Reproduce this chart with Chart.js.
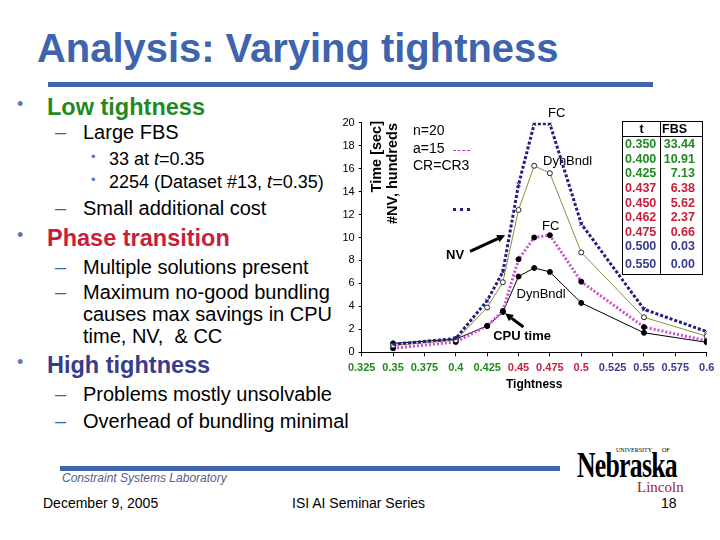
<!DOCTYPE html>
<html lang="en">
<head>
<meta charset="UTF-8">
<title>Analysis: Varying tightness</title>
<script src="https://cdn.jsdelivr.net/npm/chart.js"></script>
<style>
  body { margin: 0; background: #fff; font-family: "Liberation Sans", Arial, sans-serif; }
  #slide { position: relative; width: 720px; height: 540px; overflow: hidden; background: #fff; }
  .t { position: absolute; white-space: nowrap; line-height: 1.2; color: #000; }
  .h { font-size: 23.5px; font-weight: bold; }
  .s { font-size: 20px; }
  .ss { font-size: 18px; }
  .dot { position: absolute; color: #5a78b4; line-height: 1.2; }
  .dash { position: absolute; color: #3e64ae; font-size: 20px; line-height: 1.2; }
  .vt { position: absolute; writing-mode: vertical-rl; transform: rotate(180deg);
        font-weight: bold; font-size: 14.5px; line-height: 16px; white-space: nowrap; }
  #chartBox { position: absolute; left: 300px; top: 100px; width: 420px; height: 300px; }
  #fbs { position: absolute; left: 622px; top: 121px; border-collapse: collapse;
         border: 1px solid #000; font-weight: bold; font-size: 12.5px; }
  #fbs td { padding: 0; height: 14.6px; line-height: 14px; }
  #fbs td:first-child { border-right: 1px solid #000; width: 35px; padding-left: 2px; }
  #fbs td:last-child { width: 34px; text-align: right; padding-right: 7px; }
  #fbs tr.head td { border-bottom: 1px solid #000; text-align: left; height: 14px; }
  #fbs tr.head td:first-child { text-align: center; padding-left: 0; width: 37px; }
  #fbs tr.head td:last-child { padding-left: 1px; padding-right: 0; width: 40px; }
</style>
</head>
<body>
<div id="slide">
  <div class="t fit" data-w="521" style="left:37px; top:24px; font-size:41px; font-weight:bold; color:#3e64ae;">Analysis: Varying tightness</div>
  <div style="position:absolute; left:48px; top:82px; width:605px; height:4.5px; background:#3e64ae;"></div>

  <div class="dot" style="left:17px; top:94px; font-size:18px;">•</div>
  <div class="t h" style="left:47px; top:93px; color:#1f8a1f;">Low tightness</div>
  <div class="dash" style="left:55px; top:120px;">–</div>
  <div class="t s" style="left:83px; top:120px;">Large FBS</div>
  <div class="dot" style="left:91px; top:149px; font-size:13px;">•</div>
  <div class="t ss" style="left:109px; top:149px;">33 at <i>t</i>=0.35</div>
  <div class="dot" style="left:91px; top:172px; font-size:13px;">•</div>
  <div class="t ss" style="left:109px; top:172px;">2254 (Dataset #13, <i>t</i>=0.35)</div>
  <div class="dash" style="left:55px; top:196px;">–</div>
  <div class="t s" style="left:83px; top:196px;">Small additional cost</div>

  <div class="dot" style="left:17px; top:225px; font-size:18px;">•</div>
  <div class="t h" style="left:47px; top:224px; color:#c81e3c;">Phase transition</div>
  <div class="dash" style="left:55px; top:255px;">–</div>
  <div class="t s" style="left:83px; top:255px;">Multiple solutions present</div>
  <div class="dash" style="left:55px; top:280px;">–</div>
  <div class="t s" style="left:83px; top:280px;">Maximum no-good bundling</div>
  <div class="t s" style="left:83px; top:302px;">causes max savings in CPU</div>
  <div class="t s" style="left:83px; top:324px;">time, NV,&nbsp; &amp; CC</div>

  <div class="dot" style="left:17px; top:352px; font-size:18px;">•</div>
  <div class="t h" style="left:47px; top:351px; color:#373c8c;">High tightness</div>
  <div class="dash" style="left:55px; top:382px;">–</div>
  <div class="t s" style="left:83px; top:382px;">Problems mostly unsolvable</div>
  <div class="dash" style="left:55px; top:409px;">–</div>
  <div class="t s" style="left:83px; top:409px;">Overhead of bundling minimal</div>

  <div id="chartBox"><canvas id="chart" width="420" height="300"></canvas></div>

  <div class="vt" style="left:368px; top:121px;">Time [sec]</div>
  <div class="vt" style="left:384px; top:123px;">#NV, hundreds</div>
  <div class="t" style="left:413px; top:122px; font-size:14px;">n=20</div>
  <div class="t" style="left:413px; top:140px; font-size:14px;">a=15</div>
  <div class="t" style="left:413px; top:157px; font-size:14px;">CR=CR3</div>
  <div style="position:absolute; left:453px; top:150px; width:17px; border-top:1px dashed #c040c0;"></div>
  <div style="position:absolute; left:453px; top:208px; width:17px; border-top:3px dotted #202080;"></div>

  <table id="fbs"></table>

  <div style="position:absolute; left:60px; top:466px; width:500px; height:4.5px; background:#3e64ae;"></div>
  <div class="t" style="left:62px; top:471px; font-size:12px; font-style:italic; color:#50608f;">Constraint Systems Laboratory</div>
  <div class="t" style="left:43px; top:495px; font-size:14px;">December 9, 2005</div>
  <div class="t" style="left:292px; top:495px; font-size:14px;">ISI AI Seminar Series</div>
  <div class="t" style="left:661px; top:495px; font-size:14px;">18</div>

  <div class="t" style="left:616px; top:447px; font-size:6px; font-family:'Liberation Serif';">UNIVERSITY</div>
  <div class="t" style="left:662px; top:447px; font-size:6px; font-family:'Liberation Serif';">OF</div>
  <div class="t fit" data-w="100" style="left:577px; top:445px; font-size:35px; font-weight:bold; font-family:'Liberation Serif', serif; letter-spacing:-1px;">Nebraska</div>
  <div class="t" style="left:637px; top:478px; font-size:15px; font-family:'Liberation Serif', serif; color:#a01c2c;">Lincoln</div>
</div>

<script>
// values
const tightness  = [0.35, 0.4, 0.425, 0.4375, 0.45, 0.4625, 0.475, 0.5, 0.55, 0.6];
const nvFC       = [0.7, 1.2, 4.5, 7.0, 14.6, 19.9, 19.9, 11.2, 3.75, 1.8];
const nvDynBndl  = [0.6, 1.05, 3.9, 6.1, 12.4, 16.25, 15.6, 8.7, 3.05, 1.4];
const cpuFC      = [0.35, 0.9, 2.3, 3.6, 8.1, 10.0, 10.2, 6.15, 2.2, 1.0];
const cpuDynBndl = [0.78, 1.15, 2.3, 3.5, 6.6, 7.35, 7.0, 4.3, 1.7, 0.87];

const xTicks = [0.325, 0.35, 0.375, 0.4, 0.425, 0.45, 0.475, 0.5, 0.525, 0.55, 0.575, 0.6];
const yTicks = [0, 2, 4, 6, 8, 10, 12, 14, 16, 18, 20];

const tableT   = ['0.350', '0.400', '0.425', '0.437', '0.450', '0.462', '0.475', '0.500', '0.550'];
const tableFBS = ['33.44', '10.91', '7.13', '6.38', '5.62', '2.37', '0.66', '0.03', '0.00'];

const GREEN = '#1f8a1f', RED = '#c81e3c', NAVY = '#373c8c';

// squeeze a few labels to their width in the slide
document.querySelectorAll('.fit').forEach(el => {
    const w = +el.dataset.w;
    el.style.transformOrigin = 'left top';
    el.style.transform = 'scaleX(' + (w / el.offsetWidth) + ')';
});

// FBS table
const tbl = document.getElementById('fbs');
tbl.innerHTML = '<tr class="head"><td>t</td><td>FBS</td></tr>';
tableT.forEach((t, i) => {
    const v = parseFloat(t);
    const c = v < 0.43 ? GREEN : (v < 0.49 ? RED : NAVY);
    const tr = document.createElement('tr');
    tr.style.color = c;
    if (i === tableT.length - 1) tr.style.height = '21px';
    tr.innerHTML = '<td>' + t + '</td><td>' + tableFBS[i] + '</td>';
    tbl.appendChild(tr);
});

// text on the plot, in data units
const notes = [
    { text: 'FC', x: 0.4805, y: 20.8, font: '13px "Liberation Sans"' },
    { text: 'DynBndl', x: 0.4891, y: 16.6, font: '13px "Liberation Sans"' },
    { text: 'FC', x: 0.4756, y: 10.95, font: '13px "Liberation Sans"' },
    { text: 'DynBndl', x: 0.468, y: 5.05, font: '13px "Liberation Sans"' },
    { text: 'NV', x: 0.3994, y: 8.45, font: 'bold 13px "Liberation Sans"' },
    { text: 'CPU time', x: 0.4528, y: 1.36, font: 'bold 13px "Liberation Sans"' }
];
const arrows = [
    { from: [0.4114, 8.8], to: [0.4393, 10.2] },
    { from: [0.4539, 2.2], to: [0.4393, 3.4] }
];

const notesPlugin = {
    id: 'notes',
    beforeDatasetsDraw(chart) {
        const { ctx, scales: { x, y } } = chart;
        ctx.save();
        ctx.fillStyle = '#000';
        ctx.textAlign = 'center';
        ctx.textBaseline = 'middle';
        notes.forEach(n => {
            ctx.font = n.font;
            ctx.fillText(n.text, x.getPixelForValue(n.x), y.getPixelForValue(n.y));
        });
        ctx.restore();
    },
    afterDatasetsDraw(chart) {
        const { ctx, scales: { x, y } } = chart;
        ctx.save();
        ctx.strokeStyle = '#000';
        ctx.fillStyle = '#000';
        ctx.lineWidth = 3;
        arrows.forEach(a => {
            const x0 = x.getPixelForValue(a.from[0]), y0 = y.getPixelForValue(a.from[1]);
            const x1 = x.getPixelForValue(a.to[0]), y1 = y.getPixelForValue(a.to[1]);
            const ang = Math.atan2(y1 - y0, x1 - x0);
            const hx = x1 - 8 * Math.cos(ang), hy = y1 - 8 * Math.sin(ang);
            ctx.beginPath();
            ctx.moveTo(x0, y0);
            ctx.lineTo(hx, hy);
            ctx.stroke();
            ctx.beginPath();
            ctx.moveTo(x1, y1);
            ctx.lineTo(hx + 4 * Math.sin(ang), hy - 4 * Math.cos(ang));
            ctx.lineTo(hx - 4 * Math.sin(ang), hy + 4 * Math.cos(ang));
            ctx.closePath();
            ctx.fill();
        });
        ctx.restore();
    }
};

const pts = arr => tightness.map((t, i) => ({ x: t, y: arr[i] }));

Chart.defaults.font.family = '"Liberation Sans", Arial, sans-serif';

new Chart(document.getElementById('chart'), {
    type: 'line',
    data: {
        datasets: [
            {
                label: 'FC NV',
                data: pts(nvFC),
                borderColor: '#20207f',
                borderWidth: 3,
                borderDash: [3, 2],
                pointStyle: 'crossRot',
                pointRadius: 3,
                pointBorderColor: '#20207f',
                pointBorderWidth: 1,
                tension: 0
            },
            {
                label: 'DynBndl NV',
                data: pts(nvDynBndl),
                borderColor: '#8c8c3c',
                borderWidth: 1,
                pointStyle: 'circle',
                pointRadius: 2.5,
                pointBackgroundColor: '#fff',
                pointBorderColor: '#222',
                pointBorderWidth: 1,
                tension: 0
            },
            {
                label: 'FC CPU',
                data: pts(cpuFC),
                borderColor: '#d04cd0',
                borderWidth: 3,
                borderDash: [2, 2],
                pointStyle: 'circle',
                pointRadius: 2.5,
                pointBackgroundColor: '#000',
                pointBorderColor: '#000',
                pointBorderWidth: 1,
                tension: 0
            },
            {
                label: 'DynBndl CPU',
                data: pts(cpuDynBndl),
                borderColor: '#000',
                borderWidth: 1,
                pointStyle: 'circle',
                pointRadius: 2.5,
                pointBackgroundColor: '#000',
                pointBorderColor: '#000',
                pointBorderWidth: 1,
                tension: 0
            }
        ]
    },
    options: {
        responsive: false,
        animation: false,
        events: [],
        layout: { padding: { left: 0, right: 13.3, top: 22.7, bottom: 0 } },
        plugins: { legend: { display: false }, tooltip: { enabled: false } },
        scales: {
            x: {
                type: 'linear',
                min: 0.325,
                max: 0.6,
                afterBuildTicks: s => { s.ticks = xTicks.map(v => ({ value: v })); },
                afterFit: s => { s.height = 47.7; },
                grid: { drawOnChartArea: false, tickLength: 4, color: '#000' },
                border: { color: '#000', width: 1 },
                ticks: {
                    autoSkip: false,
                    maxRotation: 0,
                    padding: 5,
                    font: { size: 11, weight: 'bold' },
                    color: c => c.tick.value < 0.43 ? GREEN : (c.tick.value < 0.51 ? RED : NAVY),
                    callback: v => String(+v.toFixed(3))
                },
                title: {
                    display: true,
                    text: 'Tightness',
                    color: '#000',
                    font: { size: 12, weight: 'bold' },
                    padding: { top: 0, bottom: 8 }
                }
            },
            y: {
                min: 0,
                max: 20,
                afterBuildTicks: s => { s.ticks = yTicks.map(v => ({ value: v })); },
                afterFit: s => { s.width = 61.7; },
                grid: { drawOnChartArea: false, tickLength: 3, color: '#000' },
                border: { color: '#000', width: 1 },
                ticks: { padding: 4, color: '#000', font: { size: 11 } }
            }
        }
    },
    plugins: [notesPlugin]
});
</script>
</body>
</html>
